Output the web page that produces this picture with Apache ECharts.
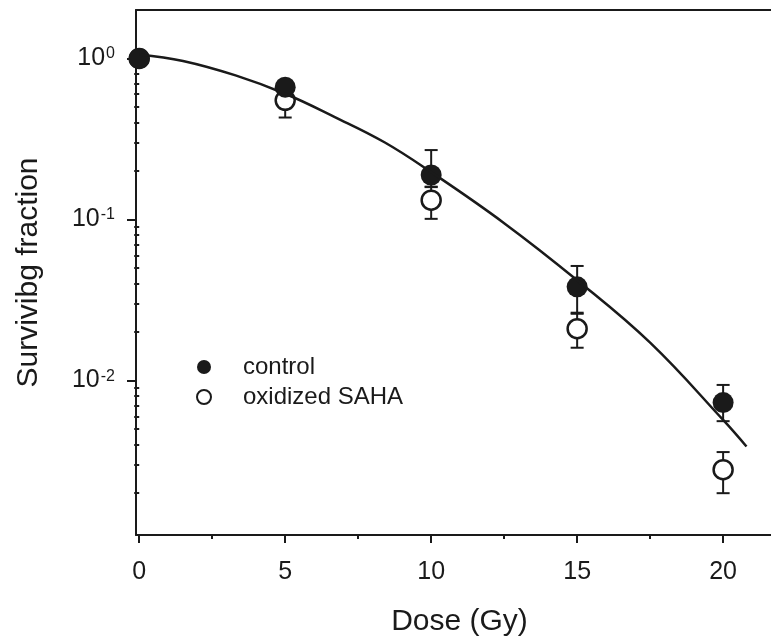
<!DOCTYPE html>
<html>
<head>
<meta charset="utf-8">
<script src="https://cdn.jsdelivr.net/npm/echarts@6/dist/echarts.min.js"></script>
<style>
html, body { margin: 0; padding: 0; background: #fff; }
#chart { width: 771px; height: 639px; }
</style>
</head>
<body>
<div id="chart"></div>
<script>
// values
var doses = [0, 5, 10, 15, 20];
var controlVals = [1.0, 0.664, 0.189, 0.0382, 0.0073];
var controlLow = [null, null, 0.159, 0.0264, 0.0056];
var controlHigh = [null, null, 0.27, 0.0515, 0.0094];
var sahaVals = [1.0, 0.55, 0.132, 0.021, 0.0028];
var sahaLow = [null, 0.43, 0.101, 0.016, 0.0020];
var sahaHigh = [null, 0.64, 0.16, 0.026, 0.0036];
var fitDose = [0, 1.5, 3.3, 5, 6.7, 8.4, 10, 12.5, 15, 17.5, 20, 20.8];
var fitVals = [1.06, 0.965, 0.785, 0.604, 0.433, 0.302, 0.197, 0.095, 0.042, 0.0172, 0.0057, 0.0039];
var xTicks = [0, 5, 10, 15, 20];
var xMinorTicks = [2.5, 7.5, 12.5, 17.5];
var yTicks = [0.01, 0.1, 1];
var yMinorTicks = [0.002, 0.003, 0.004, 0.005, 0.006, 0.007, 0.008, 0.009,
	0.02, 0.03, 0.04, 0.05, 0.06, 0.07, 0.08, 0.09,
	0.2, 0.3, 0.4, 0.5, 0.6, 0.7, 0.8, 0.9];

var FONT = "'Liberation Sans', Arial, sans-serif";
var INK = '#1a1a1a';
var X_MIN = -0.11, X_MAX = 21.64;
var Y_MIN = 0.0011, Y_MAX = 2;

function pairs(xs, ys) {
	var out = [];
	for(var i = 0; i < xs.length; i++) {
		out.push([xs[i], ys[i]]);
	}
	return out;
}

function errRows(lo, hi) {
	var out = [];
	for(var i = 0; i < doses.length; i++) {
		if(lo[i] != null && hi[i] != null) {
			out.push([doses[i], lo[i], hi[i]]);
		}
	}
	return out;
}

//error bar drawing
function renderErr(params, api) {
	var x = api.value(0);
	var pLo = api.coord([x, api.value(1)]);
	var pHi = api.coord([x, api.value(2)]);
	var hw = 6.5;
	var st = { stroke: INK, lineWidth: 2 };
	return {
		type: 'group',
		children: [
			{ type: 'line', shape: { x1: pLo[0], y1: pLo[1], x2: pHi[0], y2: pHi[1] }, style: st },
			{ type: 'line', shape: { x1: pLo[0] - hw, y1: pLo[1], x2: pLo[0] + hw, y2: pLo[1] }, style: st },
			{ type: 'line', shape: { x1: pHi[0] - hw, y1: pHi[1], x2: pHi[0] + hw, y2: pHi[1] }, style: st }
		]
	};
}

var chart = echarts.init(document.getElementById('chart'));
var option = {
	animation: false,
	backgroundColor: '#fff',
	textStyle: { fontFamily: FONT, color: INK },
	grid: { left: 136, right: 0, top: 10, bottom: 104, containLabel: false, outerBoundsMode: 'none' },
	legend: {
		orient: 'vertical',
		left: 191,
		top: 350,
		itemWidth: 14,
		itemHeight: 14,
		itemGap: 6,
		icon: 'circle',
		selectedMode: false,
		textStyle: { fontSize: 24, color: INK, fontFamily: FONT, lineHeight: 24, padding: [0, 0, 0, 27] },
		data: [
			{ name: 'control', itemStyle: { color: INK, borderWidth: 0 } },
			{ name: 'oxidized SAHA', itemStyle: { color: '#fff', borderColor: INK, borderWidth: 2 } }
		]
	},
	xAxis: [{
		type: 'value',
		min: X_MIN,
		max: X_MAX,
		position: 'bottom',
		name: 'Dose (Gy)',
		nameLocation: 'middle',
		nameGap: 72,
		nameTextStyle: { fontSize: 30, color: INK, fontFamily: FONT, padding: [0, 0, 0, 12] },
		axisLine: { show: true, onZero: false, lineStyle: { color: INK, width: 2 } },
		axisTick: { show: true, inside: false, length: 8, lineStyle: { color: INK, width: 2 }, customValues: xTicks },
		axisLabel: { show: true, fontSize: 25, color: INK, fontFamily: FONT, margin: 25, customValues: xTicks },
		splitLine: { show: false }
	}, {
		type: 'value',
		min: X_MIN,
		max: X_MAX,
		position: 'bottom',
		axisLine: { show: false },
		axisTick: { show: true, inside: false, length: 4, lineStyle: { color: INK, width: 2 }, customValues: xMinorTicks },
		axisLabel: { show: false },
		splitLine: { show: false }
	}, {
		type: 'value',
		min: X_MIN,
		max: X_MAX,
		position: 'top',
		axisLine: { show: true, onZero: false, lineStyle: { color: INK, width: 2 } },
		axisTick: { show: false },
		axisLabel: { show: false },
		splitLine: { show: false }
	}],
	yAxis: [{
		type: 'log',
		logBase: 10,
		min: Y_MIN,
		max: Y_MAX,
		name: 'Survivibg fraction',
		nameLocation: 'middle',
		nameGap: 92,
		nameTextStyle: { fontSize: 30, color: INK, fontFamily: FONT },
		axisLine: { show: true, onZero: false, lineStyle: { color: INK, width: 2 } },
		axisTick: { show: true, inside: false, length: 9, lineStyle: { color: INK, width: 2 }, customValues: yTicks },
		axisLabel: {
			show: true,
			margin: 21,
			customValues: yTicks,
			formatter: function(v) {
				var e = Math.round(Math.log(v) / Math.LN10);
				return '{b|10}{s|' + e + '}';
			},
			rich: {
				b: { fontSize: 25, color: INK, fontFamily: FONT },
				s: { fontSize: 16, color: INK, fontFamily: FONT, verticalAlign: 'top', padding: [0, 0, 0, 1] }
			}
		},
		splitLine: { show: false }
	}, {
		type: 'log',
		logBase: 10,
		min: Y_MIN,
		max: Y_MAX,
		position: 'left',
		axisLine: { show: false },
		axisTick: { show: true, inside: false, length: 5, lineStyle: { color: INK, width: 2 }, customValues: yMinorTicks },
		axisLabel: { show: false },
		splitLine: { show: false }
	}],
	series: [{
		name: 'errSaha',
		type: 'custom',
		renderItem: renderErr,
		data: errRows(sahaLow, sahaHigh),
		z: 2
	}, {
		name: 'errControl',
		type: 'custom',
		renderItem: renderErr,
		data: errRows(controlLow, controlHigh),
		z: 2
	}, {
		name: 'oxidized SAHA',
		type: 'scatter',
		symbol: 'circle',
		symbolSize: 19,
		itemStyle: { color: '#fff', borderColor: INK, borderWidth: 2.5, opacity: 1 },
		data: pairs(doses, sahaVals),
		z: 3
	}, {
		name: 'control',
		type: 'scatter',
		symbol: 'circle',
		symbolSize: 21,
		itemStyle: { color: INK, opacity: 1 },
		data: pairs(doses, controlVals),
		z: 4
	}, {
		name: 'fit',
		type: 'line',
		smooth: 0.4,
		showSymbol: false,
		lineStyle: { color: INK, width: 2.5 },
		data: pairs(fitDose, fitVals),
		z: 5
	}]
};
chart.setOption(option);
</script>
</body>
</html>
